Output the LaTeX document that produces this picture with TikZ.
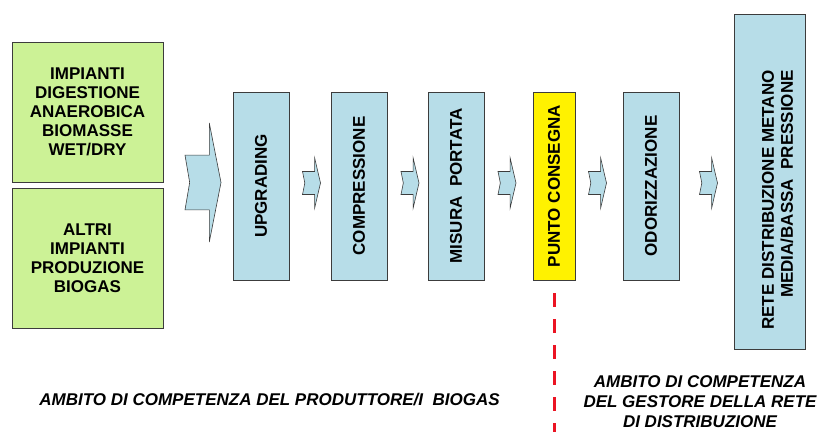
\documentclass[tikz,border=0pt]{standalone}
\usepackage{fontspec}
\setmainfont{Liberation Sans}
\usetikzlibrary{calc}
\definecolor{boxblue}{RGB}{183,221,232}
\definecolor{boxgreen}{RGB}{204,242,150}
\definecolor{edgegray}{RGB}{60,60,60}
\definecolor{cutred}{RGB}{235,20,35}
\begin{document}
\begin{tikzpicture}[x=1pt,y=-1pt,
  box/.style={draw=edgegray, line width=0.9pt, inner sep=0pt,
    font=\bfseries\fontsize{17}{19}\selectfont, align=center},
  greenbox/.style={box, fill=boxgreen, minimum width=151pt, minimum height=140pt},
  bluebox/.style={box, fill=boxblue, minimum width=56pt, minimum height=188pt},
  yellowbox/.style={box, fill=yellow, minimum width=42pt, minimum height=188pt},
  arrowshape/.style={draw=edgegray, line width=0.6pt, fill=boxblue, line join=miter},
  note/.style={font=\bfseries\itshape\fontsize{17}{20}\selectfont, align=center, inner sep=0pt},
  cutline/.style={draw=cutred, line width=3pt, dash pattern=on 14pt off 12pt},
  blockarrow/.pic={
    \path[arrowshape] (-1,-0.46) -- (0.35,-0.46) -- (0.35,-1) -- (1,0)
      -- (0.35,1) -- (0.35,0.46) -- (-1,0.46) -- (-0.74,0) -- cycle;
  }
]
\useasboundingbox (0,0) rectangle (820,432);
\fill[white] (0,0) rectangle (820,432);

% source boxes
\node[greenbox] (g1) at (87.5,112) {IMPIANTI\\DIGESTIONE\\ANAEROBICA\\BIOMASSE\\WET/DRY};
\node[greenbox] (g2) at (87.5,258) {ALTRI\\IMPIANTI\\PRODUZIONE\\BIOGAS};

% process boxes
\node[bluebox] (up) at (261,186) {\rotatebox{90}{UPGRADING}};
\node[bluebox] (comp) at (359,186) {\rotatebox{90}{COMPRESSIONE}};
\node[bluebox] (mis) at (456,186) {\rotatebox{90}{MISURA\ \ PORTATA}};
\node[yellowbox] (pc) at (554,186) {\rotatebox{90}{PUNTO CONSEGNA}};
\node[bluebox] (odo) at (651,186) {\rotatebox{90}{ODORIZZAZIONE}};
\node[bluebox, minimum width=71pt, minimum height=335pt] (rete) at (769.5,181.5) {};
\node[box, draw=none, fill=none, rotate=90, align=right] (retetxt)
  at ($(rete.center)+(8,18.5)$) {RETE DISTRIBUZIONE METANO\\MEDIA/BASSA\ \ PRESSIONE};

% block arrows
\pic[xscale=18, yscale=59.5] at (203,182.5) {blockarrow};
\pic[xscale=9, yscale=25] at (311.5,183) {blockarrow};
\pic[xscale=9, yscale=25] at (410,183) {blockarrow};
\pic[xscale=9, yscale=25] at (507,183) {blockarrow};
\pic[xscale=9, yscale=25] at (597.5,183) {blockarrow};
\pic[xscale=9, yscale=25] at (708.5,183) {blockarrow};

% boundary line
\coordinate (cutTop) at (554,293);
\coordinate (cutBot) at (554,432);
\draw[cutline] (cutTop) -- (cutBot);

% notes
\node[note] (noteL) at (269.5,400) {AMBITO DI COMPETENZA DEL PRODUTTORE/I\ \ BIOGAS};
\node[note] (noteR) at (700,402) {AMBITO DI COMPETENZA\\DEL GESTORE DELLA RETE\\DI DISTRIBUZIONE};
\end{tikzpicture}
\end{document}
